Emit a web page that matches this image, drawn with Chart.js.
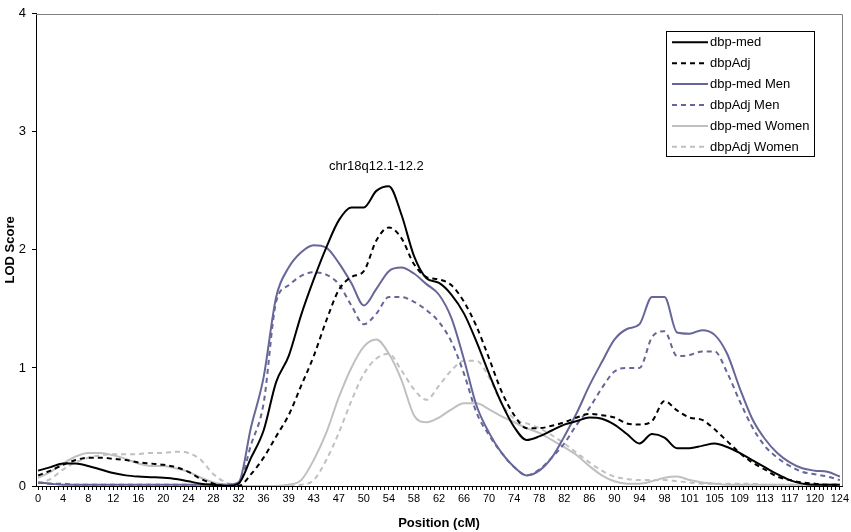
<!DOCTYPE html>
<html><head><meta charset="utf-8">
<script src="https://cdn.jsdelivr.net/npm/chart.js@4.4.1/dist/chart.umd.min.js"></script>
<style>html,body{margin:0;padding:0;background:#fff;}#wrap{width:851px;height:532px;}</style>
</head><body><div id="wrap"><canvas id="c" width="851" height="532"></canvas></div>
<script>
// x-axis category labels (position, cM) shown every 6th category
const tickLabels = ['0','4','8','12','16','20','24','28','32','36','39','43','47','50','54','58','62','66','70','74','78','82','86','90','94','98','101','105','109','113','117','120','124'];
// category indices at which values were read
const sampleIndex = [0,3,6,9,12,15,18,21,24,27,30,33,36,39,42,45,48,51,54,57,60,63,66,69,72,75,78,81,84,87,90,93,96,99,102,105,108,111,114,117,120,123,126,129,132,135,138,141,144,147,150,153,156,159,162,165,168,171,174,177,180,183,186,189,192];

const dbpMed = [0.13,0.16,0.19,0.19,0.17,0.14,0.11,0.09,0.08,0.075,0.07,0.06,0.04,0.02,0.01,0.0,0.02,0.24,0.47,0.88,1.1,1.45,1.75,2.02,2.25,2.36,2.36,2.5,2.54,2.3,1.95,1.76,1.72,1.62,1.46,1.22,0.95,0.7,0.5,0.39,0.42,0.47,0.52,0.55,0.58,0.57,0.52,0.44,0.36,0.44,0.41,0.32,0.32,0.34,0.36,0.33,0.28,0.22,0.16,0.1,0.05,0.02,0.01,0.01,0.01];
const dbpAdj = [0.09,0.13,0.18,0.22,0.24,0.24,0.23,0.22,0.2,0.19,0.18,0.16,0.12,0.06,0.02,0.0,0.0,0.1,0.24,0.42,0.6,0.85,1.1,1.4,1.66,1.77,1.82,2.08,2.19,2.1,1.88,1.77,1.75,1.7,1.56,1.35,1.08,0.8,0.6,0.49,0.49,0.51,0.54,0.58,0.61,0.6,0.58,0.53,0.52,0.55,0.72,0.64,0.58,0.56,0.48,0.38,0.28,0.2,0.14,0.08,0.05,0.03,0.02,0.01,0.01];
const menMed = [0.03,0.02,0.01,0.01,0.01,0.01,0.01,0.01,0.01,0.01,0.01,0.01,0.01,0.01,0.01,0.01,0.03,0.5,0.92,1.6,1.85,1.98,2.04,2.02,1.89,1.72,1.53,1.67,1.82,1.85,1.8,1.71,1.62,1.42,1.07,0.68,0.45,0.28,0.16,0.09,0.13,0.24,0.42,0.62,0.85,1.05,1.24,1.33,1.37,1.6,1.6,1.3,1.29,1.32,1.28,1.12,0.83,0.57,0.4,0.28,0.2,0.15,0.13,0.12,0.08];
const menAdj = [0.03,0.02,0.02,0.01,0.01,0.01,0.01,0.01,0.01,0.01,0.01,0.01,0.01,0.01,0.01,0.01,0.02,0.35,0.7,1.56,1.7,1.78,1.81,1.79,1.71,1.53,1.37,1.46,1.6,1.6,1.56,1.49,1.39,1.22,0.95,0.62,0.43,0.28,0.16,0.09,0.14,0.24,0.36,0.52,0.66,0.83,0.97,1.0,1.0,1.26,1.31,1.1,1.11,1.14,1.14,0.96,0.72,0.5,0.34,0.24,0.17,0.12,0.1,0.08,0.05];
const womenMed = [0.07,0.12,0.19,0.25,0.28,0.28,0.26,0.23,0.19,0.17,0.17,0.15,0.12,0.07,0.03,0.01,0.0,0.0,0.0,0.0,0.01,0.05,0.22,0.45,0.75,1.0,1.18,1.24,1.12,0.9,0.6,0.54,0.58,0.65,0.7,0.7,0.65,0.59,0.54,0.49,0.45,0.39,0.33,0.26,0.17,0.09,0.04,0.02,0.02,0.04,0.07,0.08,0.05,0.03,0.02,0.01,0.01,0.01,0.01,0.01,0.01,0.01,0.01,0.01,0.01];
const womenAdj = [0.02,0.06,0.14,0.2,0.24,0.26,0.27,0.27,0.27,0.28,0.28,0.29,0.28,0.22,0.1,0.03,0.01,0.0,0.0,0.0,0.0,0.01,0.05,0.22,0.45,0.72,0.95,1.08,1.12,0.98,0.82,0.73,0.85,0.98,1.06,1.06,0.92,0.7,0.57,0.53,0.49,0.43,0.36,0.28,0.2,0.13,0.08,0.06,0.05,0.05,0.05,0.04,0.03,0.02,0.02,0.02,0.02,0.02,0.01,0.01,0.01,0.01,0.01,0.01,0.01];

const seriesNames = ['dbp-med','dbpAdj','dbp-med Men','dbpAdj Men','dbp-med Women','dbpAdj Women'];
const annotationText = 'chr18q12.1-12.2';
const annotationIndex = 81;   // category index of label centre
const annotationLOD = 2.71;   // LOD level of label centre

const FONT = "'Liberation Sans', Arial, sans-serif";
const toPts = vals => sampleIndex.map((x, i) => ({x: x, y: vals[i]}));

function ds(label, vals, color, dash) {
  return {label, data: toPts(vals), borderColor: color, backgroundColor: color,
    borderWidth: 2, borderDash: dash, pointRadius: 0, fill: false,
    cubicInterpolationMode: 'monotone'};
}

const helperPlugin = {
  id: 'helper',
  beforeDraw(chart) {
    const c = chart.ctx;
    c.save(); c.fillStyle = '#fff'; c.fillRect(0, 0, chart.width, chart.height); c.restore();
  },
  beforeDatasetsDraw(chart) {
    const c = chart.ctx, a = chart.chartArea;
    c.save();
    c.strokeStyle = '#808080'; c.lineWidth = 1;
    c.beginPath();
    c.moveTo(a.left, Math.round(a.top) + 0.5);
    c.lineTo(Math.round(a.right) + 0.5, Math.round(a.top) + 0.5);
    c.lineTo(Math.round(a.right) + 0.5, a.bottom);
    c.stroke();
    c.restore();
  },
  afterDraw(chart) {
    const c = chart.ctx;
    const xs = chart.scales.x, ys = chart.scales.y;
    c.save();
    // annotation
    c.fillStyle = '#000';
    c.font = '13px ' + FONT;
    c.textAlign = 'center'; c.textBaseline = 'middle';
    c.fillText(annotationText, xs.getPixelForValue(annotationIndex), ys.getPixelForValue(annotationLOD));
    // legend
    const L = 666, T = 31, R = 814, B = 156;
    c.fillStyle = '#fff';
    c.fillRect(L, T, R - L, B - T);
    c.strokeStyle = '#000'; c.lineWidth = 1;
    c.strokeRect(L + 0.5, T + 0.5, R - L, B - T);
    c.font = '13px ' + FONT;
    c.textAlign = 'left'; c.textBaseline = 'middle';
    chart.data.datasets.forEach((d, i) => {
      const y = 42.3 + i * 20.9;
      c.strokeStyle = d.borderColor; c.lineWidth = 2;
      c.setLineDash(d.borderDash || []);
      c.beginPath(); c.moveTo(672, y); c.lineTo(708, y); c.stroke();
      c.setLineDash([]);
      c.fillStyle = '#000';
      c.fillText(d.label, 710, y + 0.5);
    });
    c.restore();
  }
};

const catCount = (tickLabels.length - 1) * 6;

new Chart(document.getElementById('c'), {
  type: 'line',
  data: {
    datasets: [
      ds(seriesNames[0], dbpMed, '#000000', []),
      ds(seriesNames[1], dbpAdj, '#000000', [5, 4]),
      ds(seriesNames[2], menMed, '#666699', []),
      ds(seriesNames[3], menAdj, '#666699', [5, 4]),
      ds(seriesNames[4], womenMed, '#c0c0c0', []),
      ds(seriesNames[5], womenAdj, '#c0c0c0', [5, 4])
    ]
  },
  options: {
    responsive: false, animation: false, devicePixelRatio: 1,
    layout: {padding: {top: 5, right: 9, left: 0, bottom: 0}},
    plugins: {legend: {display: false}, tooltip: {enabled: false}},
    scales: {
      x: {
        type: 'linear', min: -0.5, max: catCount + 0.5,
        afterBuildTicks(scale) {
          const t = [];
          for (let i = 0; i <= catCount; i++) t.push({value: i});
          scale.ticks = t;
        },
        afterFit(scale) { scale.height = 46; scale.paddingLeft = 0; scale.paddingRight = 0; },
        ticks: {
          autoSkip: false, maxRotation: 0, minRotation: 0, padding: 2,
          color: '#000', font: {family: FONT, size: 11},
          callback: v => (v % 6 === 0 ? tickLabels[v / 6] : '')
        },
        grid: {drawOnChartArea: false, drawTicks: true, tickLength: 4, color: '#000'},
        border: {display: true, color: '#000', width: 1},
        title: {display: true, text: 'Position (cM)', color: '#000',
          font: {family: FONT, size: 13, weight: 'bold'}, padding: {top: 0, bottom: 1}}
      },
      y: {
        min: 0, max: 4,
        afterFit(scale) { scale.width = 36; },
        ticks: {stepSize: 1, padding: 6, color: '#000', font: {family: FONT, size: 13}},
        grid: {drawOnChartArea: false, drawTicks: true, tickLength: 4, color: '#000'},
        border: {display: true, color: '#000', width: 1},
        title: {display: true, text: 'LOD Score', color: '#000',
          font: {family: FONT, size: 13, weight: 'bold'}, padding: {top: 3, bottom: 0}}
      }
    }
  },
  plugins: [helperPlugin]
});
</script></body></html>
